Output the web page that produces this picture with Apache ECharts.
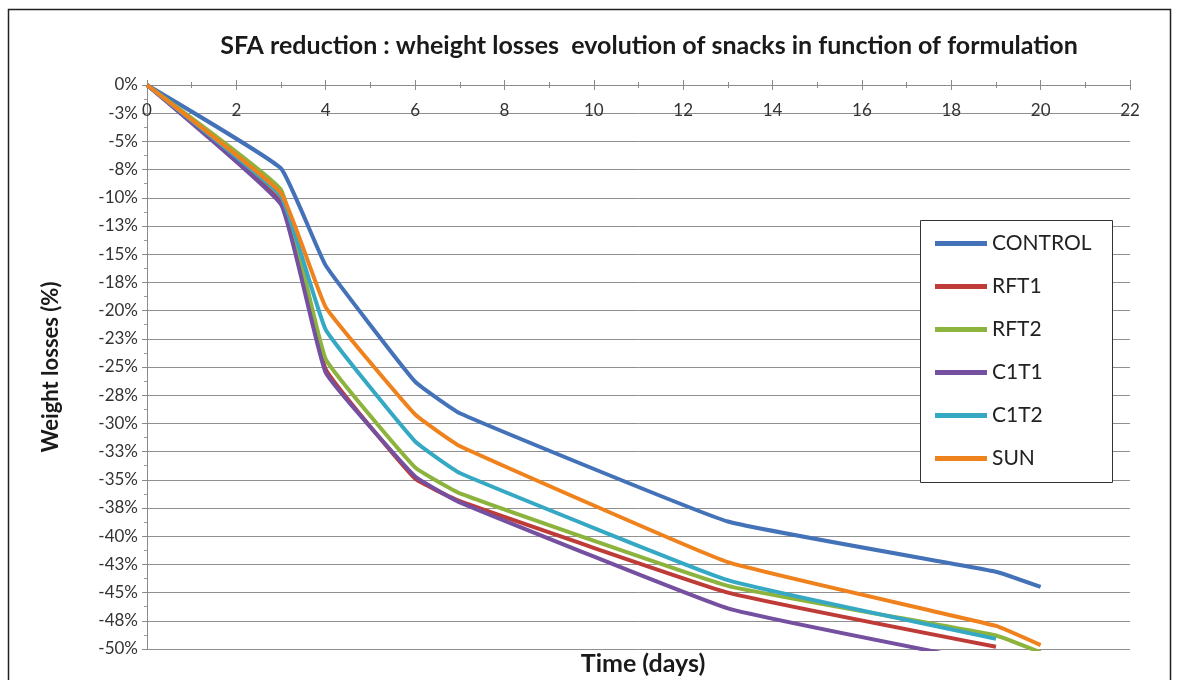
<!DOCTYPE html>
<html>
<head>
<meta charset="utf-8">
<script src="https://cdn.jsdelivr.net/npm/echarts@6/dist/echarts.min.js"></script>
<style>
html,body{margin:0;padding:0;background:#fff;}
#c{width:1178px;height:680px;}
</style>
</head>
<body>
<div id="c"></div>
<script>
// ---- data (weight losses, %) ----
const days = [0, 3, 4, 6, 7, 13, 19, 20];
const seriesNames = ['CONTROL', 'RFT1', 'RFT2', 'C1T1', 'C1T2', 'SUN'];
const control = [0, -7.4, -16.0, -26.3, -29.1, -38.7, -43.15, -44.5];
const rft1    = [0, -10.4, -25.2, -34.9, -36.9, -45.0, -49.8];
const rft2    = [0, -9.3, -24.3, -33.9, -36.2, -44.4, -48.8, -50.3];
const c1t1    = [0, -10.6, -25.5, -34.7, -37.0, -46.4, -51.3];
const c1t2    = [0, -9.9, -21.7, -31.6, -34.4, -43.9, -49.1];
const sun     = [0, -9.6, -19.7, -29.2, -32.0, -42.3, -47.95, -49.65];
const colors  = ['#4472B8', '#BE3B38', '#8DB33F', '#7550A0', '#35A8C4', '#F0821E'];

const allValues = [control, rft1, rft2, c1t1, c1t2, sun];
const FONT = 'Lato';

const chart = echarts.init(document.getElementById('c'));
function pct(v) {
  const a = Math.round(Math.abs(v));
  return (v < 0 && a !== 0 ? '-' : '') + a + '%';
}
const series = seriesNames.map((name, k) => ({
  name: name,
  type: 'line',
  xAxisIndex: 0,
  yAxisIndex: 0,
  data: allValues[k].map((v, i) => [days[i], v]),
  smooth: 0.1,
  symbol: 'none',
  showSymbol: false,
  clip: true,
  lineStyle: { width: 4, color: colors[k] },
  itemStyle: { color: colors[k] },
  z: 3 + k
}));

chart.setOption({
  animation: false,
  backgroundColor: '#fff',
  title: [
    { text: 'SFA reduction : wheight losses  evolution of snacks in function of formulation',
      left: 644, top: 28, textAlign: 'center',
      textStyle: { fontFamily: FONT, fontSize: 25, fontWeight: 'bold', color: '#1a1a1a' } },
    { text: 'Time (days)', left: 638, top: 646, textAlign: 'center',
      textStyle: { fontFamily: FONT, fontSize: 25, fontWeight: 'bold', color: '#1a1a1a' } }
  ],
  grid: { left: 147, right: 48, top: 85, bottom: 31, containLabel: false },
  legend: {
    orient: 'vertical', left: 930, top: 228, z: 20,
    data: seriesNames,
    icon: 'rect', itemWidth: 52, itemHeight: 5, itemGap: 22,
    textStyle: { fontFamily: FONT, fontSize: 21, color: '#222', lineHeight: 20 }
  },
  xAxis: [
    { type: 'value', position: 'top', min: 0, max: 22, interval: 2,
      axisLine: { show: true, onZero: false, lineStyle: { color: '#8a8a8a', width: 1 } },
      axisTick: { show: true, length: 5, lineStyle: { color: '#8a8a8a' } },
      minorTick: { show: true, splitNumber: 2, length: 3, lineStyle: { color: '#8a8a8a' } },
      axisLabel: { inside: true, margin: 17, fontFamily: FONT, fontSize: 17, color: '#333' },
      splitLine: { show: false } },
    { type: 'value', position: 'top', min: 0, max: 22, interval: 2,
      axisLine: { show: false },
      axisTick: { show: true, inside: true, length: 5, lineStyle: { color: '#8a8a8a' } },
      minorTick: { show: true, splitNumber: 2, length: 3, lineStyle: { color: '#8a8a8a' } },
      axisLabel: { show: false }, splitLine: { show: false } }
  ],
  yAxis: [
    { type: 'value', min: -50, max: 0, interval: 2.5,
      name: 'Weight losses (%)', nameLocation: 'middle', nameRotate: 90, nameGap: 85,
      nameTextStyle: { fontFamily: FONT, fontSize: 22, fontWeight: 'bold', color: '#1a1a1a' },
      axisLine: { show: true, onZero: false, lineStyle: { color: '#8a8a8a' } },
      axisTick: { show: true, length: 5, lineStyle: { color: '#8a8a8a' } },
      minorTick: { show: true, splitNumber: 2, length: 3, lineStyle: { color: '#9a9a9a' } },
      axisLabel: { margin: 9, fontFamily: FONT, fontSize: 17, color: '#333', formatter: pct },
      splitLine: { show: true, lineStyle: { color: '#8f8f8f', width: 1 } } }
  ],
  graphic: [
    { type: 'rect', shape: { x: 8.5, y: 9.5, width: 1162, height: 700 },
      style: { fill: 'none', stroke: '#222', lineWidth: 1.5 }, z: 100, silent: true },
    { type: 'rect', shape: { x: 920.5, y: 220.5, width: 192, height: 262 },
      style: { fill: '#fff', stroke: '#333', lineWidth: 1 }, z: 10, silent: true }
  ],
  series: series
});
</script>
</body>
</html>
